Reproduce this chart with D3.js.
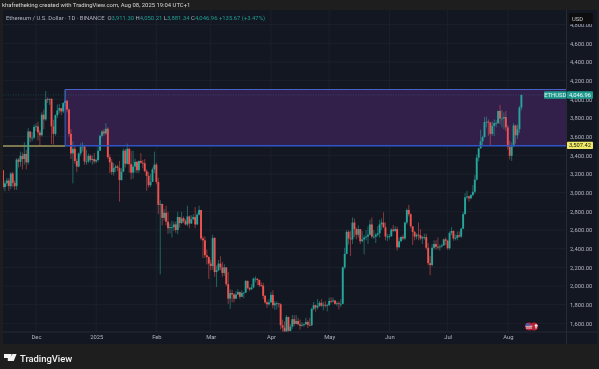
<!DOCTYPE html>
<html><head><meta charset="utf-8">
<script src="https://cdn.jsdelivr.net/npm/d3@7/dist/d3.min.js"></script>
<style>html,body{margin:0;padding:0;background:#1e1e1e}svg{display:block;filter:blur(.3px)}text{font-family:Roboto,"Open Sans",sans-serif}</style>
</head><body><div id="chart"></div>
<script>
const firstDate = new Date(2024, 10, 14);
const firstOpen = 3240;
const closes = [3060,3100,3130,3070,3205,3105,3070,3355,3330,3395,3360,3415,3325,3655,3590,3590,3705,
3710,3645,3615,3835,3785,4000,3995,4005,3710,3630,3830,3880,3905,3870,3960,3985,3890,3630,3420,3470,3340,3280,3420,3490,3495,3335,3335,3395,3350,3360,3335,
3350,3450,3610,3655,3635,3685,3380,3325,3220,3265,3280,3265,3135,3225,3450,3310,3470,3305,3215,3280,3330,3240,3340,3320,3315,3230,3180,3080,3115,3250,3300,
3115,2870,2880,2730,2785,2690,2620,2630,2630,2660,2600,2740,2675,2725,2695,2660,2745,2670,2715,2740,2660,2765,2815,2510,2490,2330,2310,2240,
2215,2515,2150,2170,2240,2200,2140,2200,2020,1865,1925,1910,1865,1910,1935,1885,1925,1930,2055,1980,1965,1985,2080,2080,2065,2010,2005,1895,1825,1805,1825,
1905,1795,1815,1815,1805,1580,1555,1470,1670,1520,1565,1645,1595,1625,1590,1575,1585,1590,1615,1585,1580,1755,1795,1770,1785,1820,1790,1800,1795,1795,
1840,1835,1845,1810,1815,1810,1810,2200,2345,2580,2510,2500,2680,2610,2550,2610,2480,2500,2520,2530,2550,2660,2530,2530,2550,2565,2660,2680,2630,2530,2530,
2535,2605,2590,2610,2415,2480,2525,2510,2680,2815,2770,2640,2580,2530,2550,2545,2510,2525,2525,2410,2245,2225,2410,2450,2420,2415,2425,2435,2500,2485,
2405,2570,2590,2510,2515,2545,2530,2615,2770,2950,2960,2940,2975,3010,3140,3375,3475,3550,3595,3755,3760,3750,3630,3715,3745,3745,3875,3795,3795,3810,3700,
3490,3395,3495,3720,3615,3680,3911.3,4046.96];
const highs = [3245,3130,3160,3155,3220,3225,3130,3370,3370,3440,3430,3540,3460,3690,3660,3650,3730,
3740,3760,3670,3860,3890,4090,4020,4010,4010,3780,3840,3945,3950,3910,3970,4105,3990,3900,3680,3550,3500,3365,3430,3530,3540,3510,3460,3420,3410,3400,3425,
3365,3500,3620,3670,3680,3745,3700,3410,3360,3320,3300,3300,3340,3260,3475,3470,3525,3480,3450,3450,3365,3340,3345,3425,3350,3360,3250,3220,3200,3270,3440,
3320,3160,2920,2880,2825,2860,2795,2670,2700,2690,2690,2795,2730,2795,2745,2715,2860,2755,2760,2770,2845,2785,2860,2815,2535,2530,2390,2320,
2280,2550,2525,2220,2280,2320,2260,2235,2200,2150,1965,1960,1925,1945,1965,1940,1955,1935,2065,2060,1990,2020,2090,2105,2075,2070,2040,2035,1905,1845,1860,
1935,1955,1840,1835,1815,1815,1640,1620,1690,1670,1590,1690,1690,1690,1660,1640,1615,1600,1660,1635,1660,1770,1830,1800,1860,1840,1860,1830,1840,1810,
1875,1880,1875,1850,1835,1835,1860,2210,2410,2600,2600,2590,2735,2725,2625,2650,2610,2590,2545,2600,2640,2710,2735,2600,2570,2640,2710,2725,2790,2680,2560,
2560,2620,2655,2640,2635,2520,2535,2550,2690,2830,2870,2780,2640,2590,2565,2680,2610,2535,2560,2560,2460,2320,2450,2490,2490,2520,2445,2450,2510,2520,
2495,2585,2630,2595,2550,2585,2585,2625,2795,2995,3020,2970,2985,3080,3190,3410,3480,3675,3610,3810,3815,3785,3760,3760,3785,3775,3880,3940,3885,3860,3875,
3725,3555,3540,3745,3725,3730,3930,4050.21];
const lows = [3035,3015,3070,3020,3040,3060,3030,3030,3270,3280,3250,3300,3250,3300,3540,3550,3570,
3660,3560,3500,3600,3680,3770,3960,3940,3520,3515,3610,3800,3850,3830,3850,3925,3860,3600,3360,3100,3310,3220,3270,3395,3440,3300,3300,3315,3325,3300,3310,
3315,3330,3445,3590,3610,3620,3360,3210,3190,3185,3220,3230,2905,3130,3220,3270,3300,3215,3140,3150,3215,3210,3210,3310,3260,3220,3020,3055,3060,3130,3210,
3090,2770,2125,2650,2700,2650,2560,2565,2520,2590,2570,2555,2625,2665,2675,2650,2640,2620,2665,2710,2620,2655,2755,2490,2300,2300,2230,2075,
2170,2175,2100,1990,2160,2170,2100,2110,2000,1810,1755,1825,1825,1860,1905,1860,1885,1870,1925,1965,1945,1960,1975,2040,2010,1990,1990,1860,1810,1765,1790,
1820,1760,1745,1750,1770,1535,1410,1420,1385,1475,1500,1540,1570,1590,1580,1535,1565,1565,1590,1550,1570,1570,1740,1725,1750,1780,1775,1740,1770,1730,
1790,1815,1825,1800,1785,1750,1775,1805,2180,2340,2445,2320,2450,2525,2500,2520,2450,2470,2340,2490,2450,2545,2510,2505,2460,2530,2520,2600,2620,2490,2480,
2500,2525,2580,2580,2380,2410,2470,2490,2490,2660,2745,2620,2440,2490,2500,2490,2490,2450,2495,2390,2220,2115,2210,2390,2390,2390,2380,2410,2430,2440,
2390,2390,2545,2485,2490,2490,2520,2515,2610,2765,2930,2905,2930,2960,2990,3130,3335,3470,3510,3590,3700,3610,3505,3610,3605,3700,3735,3735,3700,3680,3660,
3460,3355,3340,3490,3525,3575,3640,3881.34];
const priceTicks = [1600,1800,2000,2200,2400,2600,2800,3000,3200,3400,3600,3800,4000,4200,4400,4600,4800];
const timeTickDates = [new Date(2024,11,1),new Date(2025,0,1),new Date(2025,1,1),new Date(2025,2,1),new Date(2025,3,1),new Date(2025,4,1),new Date(2025,5,1),new Date(2025,6,1),new Date(2025,7,1)];
const timeTickLabels = ["Dec","2025","Feb","Mar","Apr","May","Jun","Jul","Aug"];
const zoneTop = 4105, zoneBottom = 3507.42, lastPrice = 4046.96;
const zoneStart = new Date(2024,11,16);

const W=599,H=369, L=3, R=566.5, T=10, B=332, AB=344;
const bg="#131722", grid="#1c202b", up="#26a69a", down="#ef5350", axisText="#b2b5be";
const y=d3.scaleLinear().domain([1600,4600]).range([323.4,43.3]);
const x=d3.scaleTime().domain([new Date(2024,11,1),new Date(2025,7,1)]).range([36,507.8]);
const candles=closes.map((c,i)=>({d:d3.timeDay.offset(firstDate,i),o:i?closes[i-1]:firstOpen,h:highs[i],l:lows[i],c}));

const svg=d3.select("#chart").append("svg").attr("width",W).attr("height",H).attr("viewBox",[0,0,W,H]);
svg.append("rect").attr("width",W).attr("height",H).attr("fill","#1e1e1e");
svg.append("rect").attr("x",L).attr("y",T).attr("width",W-L-2).attr("height",AB-T).attr("fill",bg);
svg.append("defs").append("clipPath").attr("id","pane").append("rect").attr("x",L).attr("y",T).attr("width",R-L).attr("height",B-T);

const pane=svg.append("g").attr("clip-path","url(#pane)");
pane.append("g").selectAll("line").data(timeTickDates).join("line")
 .attr("x1",d=>x(d)).attr("x2",d=>x(d)).attr("y1",T).attr("y2",B).attr("stroke",grid).attr("stroke-width",1);
pane.append("g").selectAll("line").data(priceTicks).join("line")
 .attr("x1",L).attr("x2",R).attr("y1",d=>y(d)).attr("y2",d=>y(d)).attr("stroke",grid).attr("stroke-width",1);

// zone
pane.append("rect").attr("x",x(zoneStart)).attr("y",y(zoneTop)).attr("width",R-x(zoneStart)).attr("height",y(zoneBottom)-y(zoneTop))
 .attr("fill","#33204a");
pane.append("line").attr("x1",L).attr("x2",x(zoneStart)).attr("y1",y(zoneBottom)+.6).attr("y2",y(zoneBottom)+.6).attr("stroke","#a09a5c").attr("stroke-width",1.5);
pane.append("line").attr("x1",L).attr("x2",R).attr("y1",y(lastPrice)).attr("y2",y(lastPrice)).attr("stroke",up).attr("stroke-opacity",.4).attr("stroke-width",.7).attr("stroke-dasharray","1 1.5");

const cw=1.9;
pane.append("g").selectAll("line").data(candles).join("line")
 .attr("x1",d=>x(d.d)).attr("x2",d=>x(d.d)).attr("y1",d=>y(d.h)).attr("y2",d=>y(d.l))
 .attr("stroke",d=>d.c>=d.o?up:down).attr("stroke-opacity",.55).attr("stroke-width",1);
pane.append("g").selectAll("rect").data(candles).join("rect")
 .attr("x",d=>x(d.d)-cw/2).attr("width",cw)
 .attr("y",d=>y(Math.max(d.o,d.c))).attr("height",d=>Math.max(.8,Math.abs(y(d.o)-y(d.c))))
 .attr("fill",d=>d.c>=d.o?up:down);

// zone outline
pane.append("line").attr("x1",x(zoneStart)).attr("x2",R).attr("y1",y(zoneTop)).attr("y2",y(zoneTop)).attr("stroke","#4a63c8").attr("stroke-width",1);
pane.append("line").attr("x1",x(zoneStart)).attr("x2",x(zoneStart)).attr("y1",y(zoneTop)).attr("y2",y(zoneBottom)).attr("stroke","#3f62c8").attr("stroke-width",1);
pane.append("line").attr("x1",x(zoneStart)).attr("x2",R).attr("y1",y(zoneBottom)+.5).attr("y2",y(zoneBottom)+.5).attr("stroke","#2f55c4").attr("stroke-width",1.5);

// axis frames
svg.append("line").attr("x1",L).attr("x2",W-2).attr("y1",B).attr("y2",B).attr("stroke","#262a35");
svg.append("line").attr("x1",R).attr("x2",R).attr("y1",T).attr("y2",AB).attr("stroke","#262a35");

// price axis
const yAxis=d3.axisRight(y).tickValues(priceTicks).tickSize(0).tickPadding(0).tickFormat(d3.format(",.2f"));
const gy=svg.append("g").attr("transform",`translate(570,0)`).call(yAxis);
gy.select(".domain").remove();
gy.selectAll("text").attr("fill",axisText).attr("font-size",5.8).attr("dy",".33em").attr("x",0);

// time axis
const xAxis=d3.axisBottom(x).tickValues(timeTickDates).tickSize(0).tickPadding(0).tickFormat((d,i)=>timeTickLabels[i]);
const gx=svg.append("g").attr("transform",`translate(0,334.6)`).call(xAxis);
gx.select(".domain").remove();
gx.selectAll("text").attr("fill",axisText).attr("font-size",5.8).attr("dy",".71em").attr("y",0);

// USD button
svg.append("rect").attr("x",569).attr("y",13).attr("width",24).attr("height",11).attr("rx",1.5).attr("fill","#0d0d0f");
svg.append("text").attr("x",572).attr("y",20.5).attr("fill","#c8cad0").attr("font-size",5.8).text("USD");

// price labels
const labelRow=(x0,w,val,fill,color,txt)=>{
 svg.append("rect").attr("x",x0).attr("y",y(val)-3.6).attr("width",w).attr("height",7.4).attr("rx",.8).attr("fill",fill);
 svg.append("text").attr("x",x0+w/2).attr("y",y(val)+2.1).attr("text-anchor","middle").attr("font-size",5.8).attr("fill",color).text(txt);
};
labelRow(544,22.5,lastPrice,"#1f9a8f","#e6f2f0","ETHUSD");
labelRow(567,26,lastPrice,"#1f9a8f","#f0f7f6",d3.format(",.2f")(lastPrice));
labelRow(567,26,zoneBottom,"#f0e96a","#20200f",d3.format(",.2f")(zoneBottom));

// header
svg.append("text").attr("x",2).attr("y",7).attr("fill","#d8d8d8").attr("font-size",5.9).text("khafretheking created with TradingView.com, Aug 08, 2025 19:04 UTC+1");
const legend=svg.append("text").attr("x",6).attr("y",20).attr("font-size",5.9);
const gray="#aeb1ba", teal="#1f9d90";
[["Ethereum / U.S. Dollar · 1D · BINANCE  ",gray],["O",gray],["3,911.30 ",teal],["H",gray],["4,050.21 ",teal],["L",gray],["3,881.34 ",teal],["C",gray],["4,046.96 +135.67 (+3.47%)",teal]]
 .forEach(([t,c])=>legend.append("tspan").attr("fill",c).attr("xml:space","preserve").text(t));

// event flags
const fl=svg.append("g");
fl.append("circle").attr("cx",534).attr("cy",326.4).attr("r",4).attr("fill","#b22234");
fl.append("path").attr("d","M534.6 325.8h3.2M536 324v4.6").attr("stroke","#fff").attr("stroke-width",1.1);
fl.append("circle").attr("cx",529).attr("cy",326.4).attr("r",4).attr("fill","#b22234");
fl.append("path").attr("d","M525.6 326.2h6.8M526 328h6").attr("stroke","#eee").attr("stroke-width",.9);
fl.append("rect").attr("x",526.2).attr("y",323.4).attr("width",3.2).attr("height",2.6).attr("fill","#3566c8");

// logo
svg.append("path").attr("fill","#f2f2f2").attr("d","M4 354h7.6v6.9H7.8v-3H4zM12.4 354h4.2l-2.9 6.9h-3.6z");
svg.append("text").attr("x",20).attr("y",361.6).attr("fill","#f2f2f2").attr("font-size",9.4).attr("font-weight",500).attr("font-family","Inter, Roboto, sans-serif").text("TradingView");
</script></body></html>
